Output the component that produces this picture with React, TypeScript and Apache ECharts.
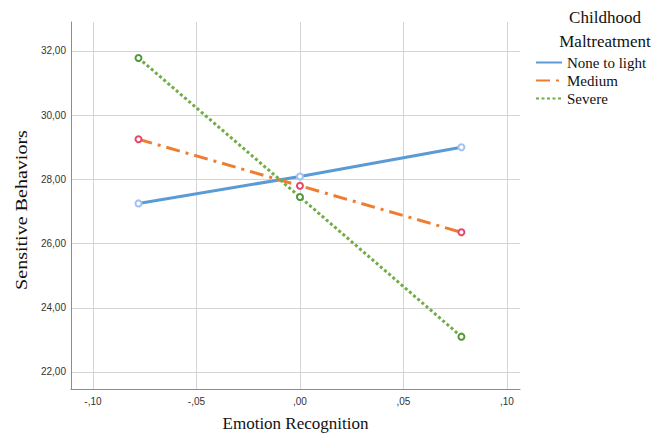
import React, { useEffect, useRef } from "react";
import * as echarts from "echarts";

const xValues = [-0.078, 0, 0.078];
const noneToLight = [27.25, 28.09, 29.0];
const medium = [29.25, 27.8, 26.35];
const severe = [31.78, 27.45, 23.1];
const seriesNames = ["None to light", "Medium", "Severe"];
const xTicks = [-0.1, -0.05, 0, 0.05, 0.1];
const yTicks = [22, 24, 26, 28, 30, 32];

const serif = "Liberation Serif";
const sans = "Liberation Sans";

function fmtX(v: number) {
  const s = Math.abs(v).toFixed(2).replace(/^0\./, ",");
  return (v < -1e-9 ? "-" : "") + s;
}
function fmtY(v: number) {
  return v.toFixed(2).replace(".", ",");
}

export default function App() {
  const ref = useRef<HTMLDivElement>(null);
  useEffect(() => {
    if (!ref.current) return;
    const chart = echarts.init(ref.current, null, { renderer: "svg" });
    const mk = (vals: number[]) => xValues.map((x, i) => [x, vals[i]]);
    chart.setOption({
      animation: false,
      backgroundColor: "#ffffff",
      grid: {
        left: 71,
        top: 22,
        right: 135,
        bottom: 45,
        containLabel: false,
        outerBoundsMode: "none",
      },
      xAxis: {
        type: "value",
        min: -0.1106,
        max: 0.1063,
        name: "Emotion Recognition",
        nameLocation: "middle",
        nameGap: 26,
        nameTextStyle: { fontFamily: serif, fontSize: 17, color: "#111" },
        axisLine: { show: true, onZero: false, lineStyle: { color: "#8c8c8c", width: 1 } },
        axisTick: { show: false, customValues: xTicks },
        axisLabel: {
          customValues: xTicks,
          formatter: (v: number) => fmtX(v),
          fontFamily: sans,
          fontSize: 10,
          color: "#333",
          margin: 7,
        },
        splitLine: { show: true, lineStyle: { color: "#d4d4d4", width: 1 } },
      },
      yAxis: {
        type: "value",
        min: 21.47,
        max: 32.9,
        axisLine: { show: true, onZero: false, lineStyle: { color: "#8c8c8c", width: 1 } },
        axisTick: { show: false, customValues: yTicks },
        axisLabel: {
          customValues: yTicks,
          formatter: (v: number) => fmtY(v),
          fontFamily: sans,
          fontSize: 10,
          color: "#333",
          margin: 5,
        },
        splitLine: { show: true, lineStyle: { color: "#d4d4d4", width: 1 } },
      },
      legend: {
        data: seriesNames,
        orient: "vertical",
        left: 530,
        top: 50,
        itemWidth: 26,
        itemHeight: 14,
        itemGap: 3,
        textStyle: { fontFamily: serif, fontSize: 15, color: "#111" },
        itemStyle: { opacity: 0 },
      },
      graphic: [
        {
          type: "text",
          x: 605,
          y: 5,
          style: {
            text: "Childhood\nMaltreatment",
            fontFamily: serif,
            fontSize: 17,
            lineHeight: 24,
            fill: "#111",
            align: "center",
            verticalAlign: "top",
          },
        },
        {
          type: "text",
          x: 21,
          y: 210,
          rotation: Math.PI / 2,
          scaleX: 1.18,
          style: {
            text: "Sensitive Behaviors",
            fontFamily: serif,
            fontSize: 17,
            fill: "#111",
            align: "center",
            verticalAlign: "middle",
          },
        },
      ],
      series: [
        {
          name: seriesNames[0],
          type: "line",
          data: mk(noneToLight),
          symbol: "emptyCircle",
          symbolSize: 6,
          lineStyle: { color: "#5b9bd5", width: 3, type: "solid" },
          itemStyle: { color: "#9fc2f0", borderColor: "#9fc2f0", borderWidth: 1.2 },
          z: 3,
        },
        {
          name: seriesNames[1],
          type: "line",
          data: mk(medium),
          symbol: "emptyCircle",
          symbolSize: 6,
          lineStyle: { color: "#ed7d31", width: 3, type: [14, 6, 3, 6] },
          itemStyle: { color: "#e8456a", borderColor: "#e8456a", borderWidth: 1.2 },
          z: 3,
        },
        {
          name: seriesNames[2],
          type: "line",
          data: mk(severe),
          symbol: "emptyCircle",
          symbolSize: 6,
          lineStyle: { color: "#70ad47", width: 3, type: [3, 2.5] },
          itemStyle: { color: "#4e9a3a", borderColor: "#4e9a3a", borderWidth: 1.2 },
          z: 3,
        },
      ],
    });
    return () => chart.dispose();
  }, []);
  return <div ref={ref} style={{ width: 655, height: 434, position: "absolute", left: 0, top: 0 }} />;
}
